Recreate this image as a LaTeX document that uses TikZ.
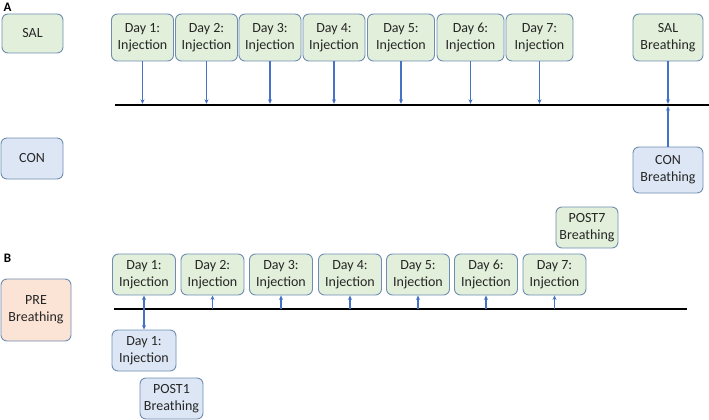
\documentclass[tikz,border=0pt]{standalone}
\usepackage{fontspec}
\setmainfont{Carlito}
\usepackage{xcolor}
\usetikzlibrary{arrows.meta,positioning,calc}

\definecolor{boxline}{HTML}{6F8DB3}
\definecolor{greenfill}{HTML}{E2EFDA}
\definecolor{bluefill}{HTML}{DCE6F4}
\definecolor{orangefill}{HTML}{FBE3D5}
\definecolor{arrowblue}{HTML}{4472C4}

\begin{document}
\begin{tikzpicture}[x=1pt, y=-1pt,
    box/.style={draw=boxline, line width=0.9pt, rounded corners=6pt, align=center,
        inner sep=0pt, text=black!85, font=\fontsize{14}{17}\selectfont},
    greenbox/.style={box, fill=greenfill},
    bluebox/.style={box, fill=bluefill},
    orangebox/.style={box, fill=orangefill},
    timeline/.style={line width=2.4pt},
    tick/.style={draw=arrowblue, line width=1.2pt, -{Stealth[length=4.5pt,width=4pt]}},
    panel/.style={font=\fontsize{13}{15}\selectfont\bfseries}]
    \useasboundingbox (0,0) rectangle (709,420);

    % Panel A
    \node[panel] (labA) at (7.5,7) {A};
    \coordinate (lineA) at (115,105);
    \coordinate (lineAend) at (709,105);
    \draw[timeline] (lineA) -- (lineAend);

    \node[greenbox, minimum width=61pt, minimum height=39pt] (sal) at (32.5,33.5) {SAL};
    \node[bluebox, minimum width=62pt, minimum height=41pt] (con) at (32,158.5) {CON};

    % injections, saline group
    \foreach \i/\x/\w in {1/142.5/62,2/206.5/62,3/270/62,4/334/62,5/401/67,6/470.5/67,7/539.5/67}{
        \node[greenbox, minimum width=\w pt, minimum height=47pt] (a\i) at (\x,37.5) {Day \i:\\Injection};
        \draw[tick, shorten >=1.2pt] (a\i.south) -- (a\i.south |- lineA);
    }

    % breathing tests
    \node[greenbox, minimum width=70pt, minimum height=47pt] (salb) at (668,37.5) {SAL\\Breathing};
    \node[bluebox, minimum width=70pt, minimum height=46pt] (conb) at (668,170) {CON\\Breathing};
    \draw[tick, shorten >=1.2pt] (salb.south) -- (salb.south |- lineA);
    \draw[tick, shorten >=1.2pt] (conb.north) -- (conb.north |- lineA);

    % Panel B
    \node[panel] (labB) at (7.5,258) {B};
    \coordinate (lineB) at (114,309);
    \coordinate (lineBend) at (687,309);
    \draw[timeline] (lineB) -- (lineBend);

    \node[orangebox, minimum width=70pt, minimum height=62pt] (pre) at (36,310) {PRE\\Breathing};

    \foreach \i/\x in {1/144,2/212.5,3/281,4/350,5/418,6/486,7/554.5}{
        \node[greenbox, minimum width=63pt, minimum height=41pt] (b\i) at (\x,274.5) {Day \i:\\Injection};
    }
    \foreach \i in {2,...,7}{
        \draw[tick] (b\i.south |- lineB) -- (b\i.south);
    }

    \node[bluebox, minimum width=64pt, minimum height=41pt] (b1low) at (144,350.5) {Day 1:\\Injection};
    \draw[tick, {Stealth[length=4.5pt,width=4pt]}-{Stealth[length=4.5pt,width=4pt]}] (b1.south) -- (b1low.north);

    \node[bluebox, minimum width=63pt, minimum height=41pt] (post1) at (171.5,398.5) {POST1\\Breathing};
    \node[greenbox, minimum width=62pt, minimum height=41pt] (post7) at (587,227.5) {POST7\\Breathing};
\end{tikzpicture}
\end{document}
